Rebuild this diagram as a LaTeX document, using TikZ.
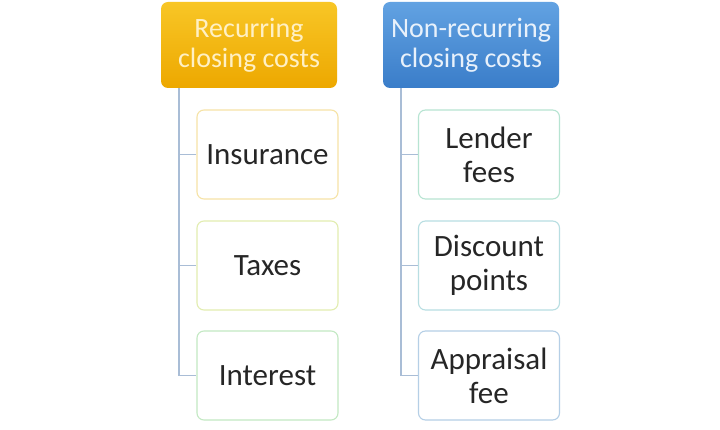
\documentclass[tikz,border=0pt]{standalone}
\usepackage{fontspec}
\setmainfont{Carlito}
\usetikzlibrary{positioning}
\definecolor{goldtop}{HTML}{F8C626}
\definecolor{goldbot}{HTML}{EDA800}
\definecolor{bluetop}{HTML}{62A2E2}
\definecolor{bluebot}{HTML}{3A7DC9}
\definecolor{goldtxt}{HTML}{FFF0C4}
\definecolor{bluetxt}{HTML}{E8F1FB}
\definecolor{linec}{HTML}{A9BDD6}
\definecolor{bA}{HTML}{F6E3A6}
\definecolor{bB}{HTML}{E2EDB0}
\definecolor{bC}{HTML}{C3E9C3}
\definecolor{bD}{HTML}{B7E4D2}
\definecolor{bE}{HTML}{B8DEE2}
\definecolor{bF}{HTML}{B5CFE6}
\tikzset{
  x=1pt,y=-1pt,
  header/.style={rounded corners=7pt, minimum width=176pt, minimum height=86pt,
     align=center, font=\fontsize{28}{30}\selectfont, inner sep=0pt},
  item/.style={draw, line width=1.1pt, rounded corners=7pt, fill=white,
     minimum width=141pt, minimum height=89pt, align=center,
     font=\fontsize{31}{34}\selectfont, text=black!85, inner sep=0pt},
  conn/.style={draw=linec, line width=1.2pt}
}
\begin{document}
\begin{tikzpicture}
\useasboundingbox (0,0) rectangle (720,430);
\fill[white] (0,0) rectangle (720,430);
% headers
\node[header, top color=goldtop, bottom color=goldbot, text=goldtxt] (h1) at (249,45) {Recurring\\closing costs};
\node[header, top color=bluetop, bottom color=bluebot, text=bluetxt] (h2) at (471,45) {Non-recurring\\closing costs};
% left items
\node[item, draw=bA] (a1) at (267.5,154.5) {Insurance};
\node[item, draw=bB] (a2) at (267.5,265.5) {Taxes};
\node[item, draw=bC] (a3) at (267.5,375.5) {Interest};
% right items
\node[item, draw=bD] (b1) at (489,154.5) {Lender\\fees};
\node[item, draw=bE] (b2) at (489,265.5) {Discount\\points};
\node[item, draw=bF] (b3) at (489,375.5) {Appraisal\\fee};
% connectors
\coordinate (l0) at ([xshift=-70pt]h1.south);
\coordinate (r0) at ([xshift=-70pt]h2.south);
\draw[conn] (l0) |- (a3.west);
\draw[conn] (l0 |- a1.west) -- (a1.west);
\draw[conn] (l0 |- a2.west) -- (a2.west);
\draw[conn] (r0) |- (b3.west);
\draw[conn] (r0 |- b1.west) -- (b1.west);
\draw[conn] (r0 |- b2.west) -- (b2.west);
\end{tikzpicture}
\end{document}
